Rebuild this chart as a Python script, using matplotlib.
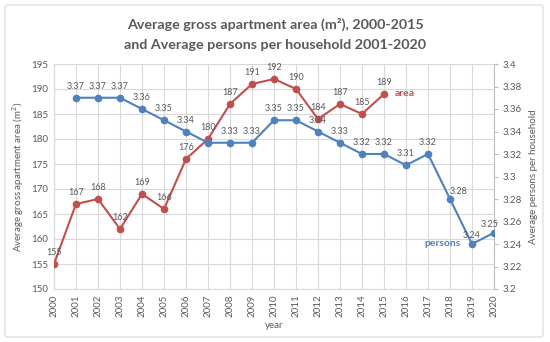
import matplotlib
matplotlib.use("Agg")
import matplotlib.pyplot as plt
from matplotlib.patches import FancyBboxPatch

years = list(range(2000, 2021))
area_years = list(range(2000, 2016))
area = [155, 167, 168, 162, 169, 166, 176, 180, 187, 191, 192, 190, 184, 187, 185, 189]
persons_years = list(range(2001, 2021))
persons = [3.37, 3.37, 3.37, 3.36, 3.35, 3.34, 3.33, 3.33, 3.33, 3.35, 3.35,
           3.34, 3.33, 3.32, 3.32, 3.31, 3.32, 3.28, 3.24, 3.25]
left_ticks = [150, 155, 160, 165, 170, 175, 180, 185, 190, 195]
right_ticks = [3.2, 3.22, 3.24, 3.26, 3.28, 3.3, 3.32, 3.34, 3.36, 3.38, 3.4]

plt.rcParams['font.family'] = ['Lato', 'DejaVu Sans']
RED = '#C0504D'
BLUE = '#4F81BD'
GRAY = '#595959'
GRID = '#D9D9D9'

fig = plt.figure(figsize=(5.5, 3.42), dpi=100)
border = FancyBboxPatch((5/550, 5/342), 538/550, 332/342, boxstyle="round,pad=0,rounding_size=0.005",
                        transform=fig.transFigure, facecolor='white', edgecolor='#D9D9D9', lw=0.8,
                        zorder=-10)
fig.patches.append(border)

ax = fig.add_axes([54/550, 1-289/342, 440/550, 225/342])
ax.patch.set_alpha(0)
ax.set_xlim(2000, 2020)
ax.set_ylim(150, 195)
ax.set_yticks(left_ticks)
ax.set_xticks(years)
ax.set_xticklabels([str(y) for y in years], rotation=90)
ax.grid(True, color=GRID, lw=0.8)
ax.set_axisbelow(True)
for s in ['top', 'right']:
    ax.spines[s].set_visible(False)
ax.spines['left'].set_color(GRID)
ax.spines['bottom'].set_color(GRID)
ax.tick_params(axis='both', length=0, labelsize=7, colors=GRAY, pad=4)
ax.set_xlabel('year', fontsize=7, color=GRAY, labelpad=3)
ax.set_ylabel('Average gross apartment area (m$^2$)', fontsize=7, color=GRAY, labelpad=4)

ax2 = ax.twinx()
ax2.set_ylim(3.2, 3.4)
ax2.set_yticks(right_ticks)
ax2.set_yticklabels([f'{t:g}' for t in right_ticks])
for s in ['top', 'left', 'bottom']:
    ax2.spines[s].set_visible(False)
ax2.spines['right'].set_color('#BFBFBF')
ax2.tick_params(axis='y', length=3, color='#BFBFBF', labelsize=7, labelcolor=GRAY, pad=3)
ax2.set_ylabel('Average persons per household', fontsize=7, color=GRAY, labelpad=5)

ax.plot(area_years, area, color=RED, lw=1.5, marker='o', ms=4.5, zorder=3)
ax2.plot(persons_years, persons, color=BLUE, lw=1.5, marker='o', ms=4.5, zorder=3)

for x, v in zip(area_years, area):
    ax.annotate(str(v), (x, v), xytext=(0, 5), textcoords='offset points', ha='center',
                va='bottom', fontsize=6.5, color=GRAY)
for x, v in zip(persons_years, persons):
    if x == 2007:
        continue
    if x in (2018, 2019, 2020):
        off = (6, 2) if x == 2018 else ((0, 3) if x == 2019 else (-3, 3))
        ax2.annotate(f'{v:g}', (x, v), xytext=off, textcoords='offset points', ha='center',
                     va='bottom', fontsize=6.5, color=GRAY)
    else:
        ax2.annotate(f'{v:g}', (x, v), xytext=(0, 5), textcoords='offset points', ha='center',
                     va='bottom', fontsize=6.5, color=GRAY)

ax.annotate('area', (2015, 189), xytext=(8, 0), textcoords='offset points', ha='left',
            va='center', fontsize=7.5, color=RED, fontweight='bold')
ax2.annotate('persons', (2019, 3.24), xytext=(-8, 0), textcoords='offset points', ha='right',
             va='center', fontsize=7.5, color=BLUE, fontweight='bold')

fig.text(0.5, 1-24/342, 'Average gross apartment area (m\u00b2), 2000-2015', ha='center', va='center',
         fontsize=10.3, fontweight='bold', color=GRAY)
fig.text(0.5, 1-45/342, 'and Average persons per household 2001-2020', ha='center', va='center',
         fontsize=10.3, fontweight='bold', color=GRAY)

fig.savefig('out.png', dpi=100)
